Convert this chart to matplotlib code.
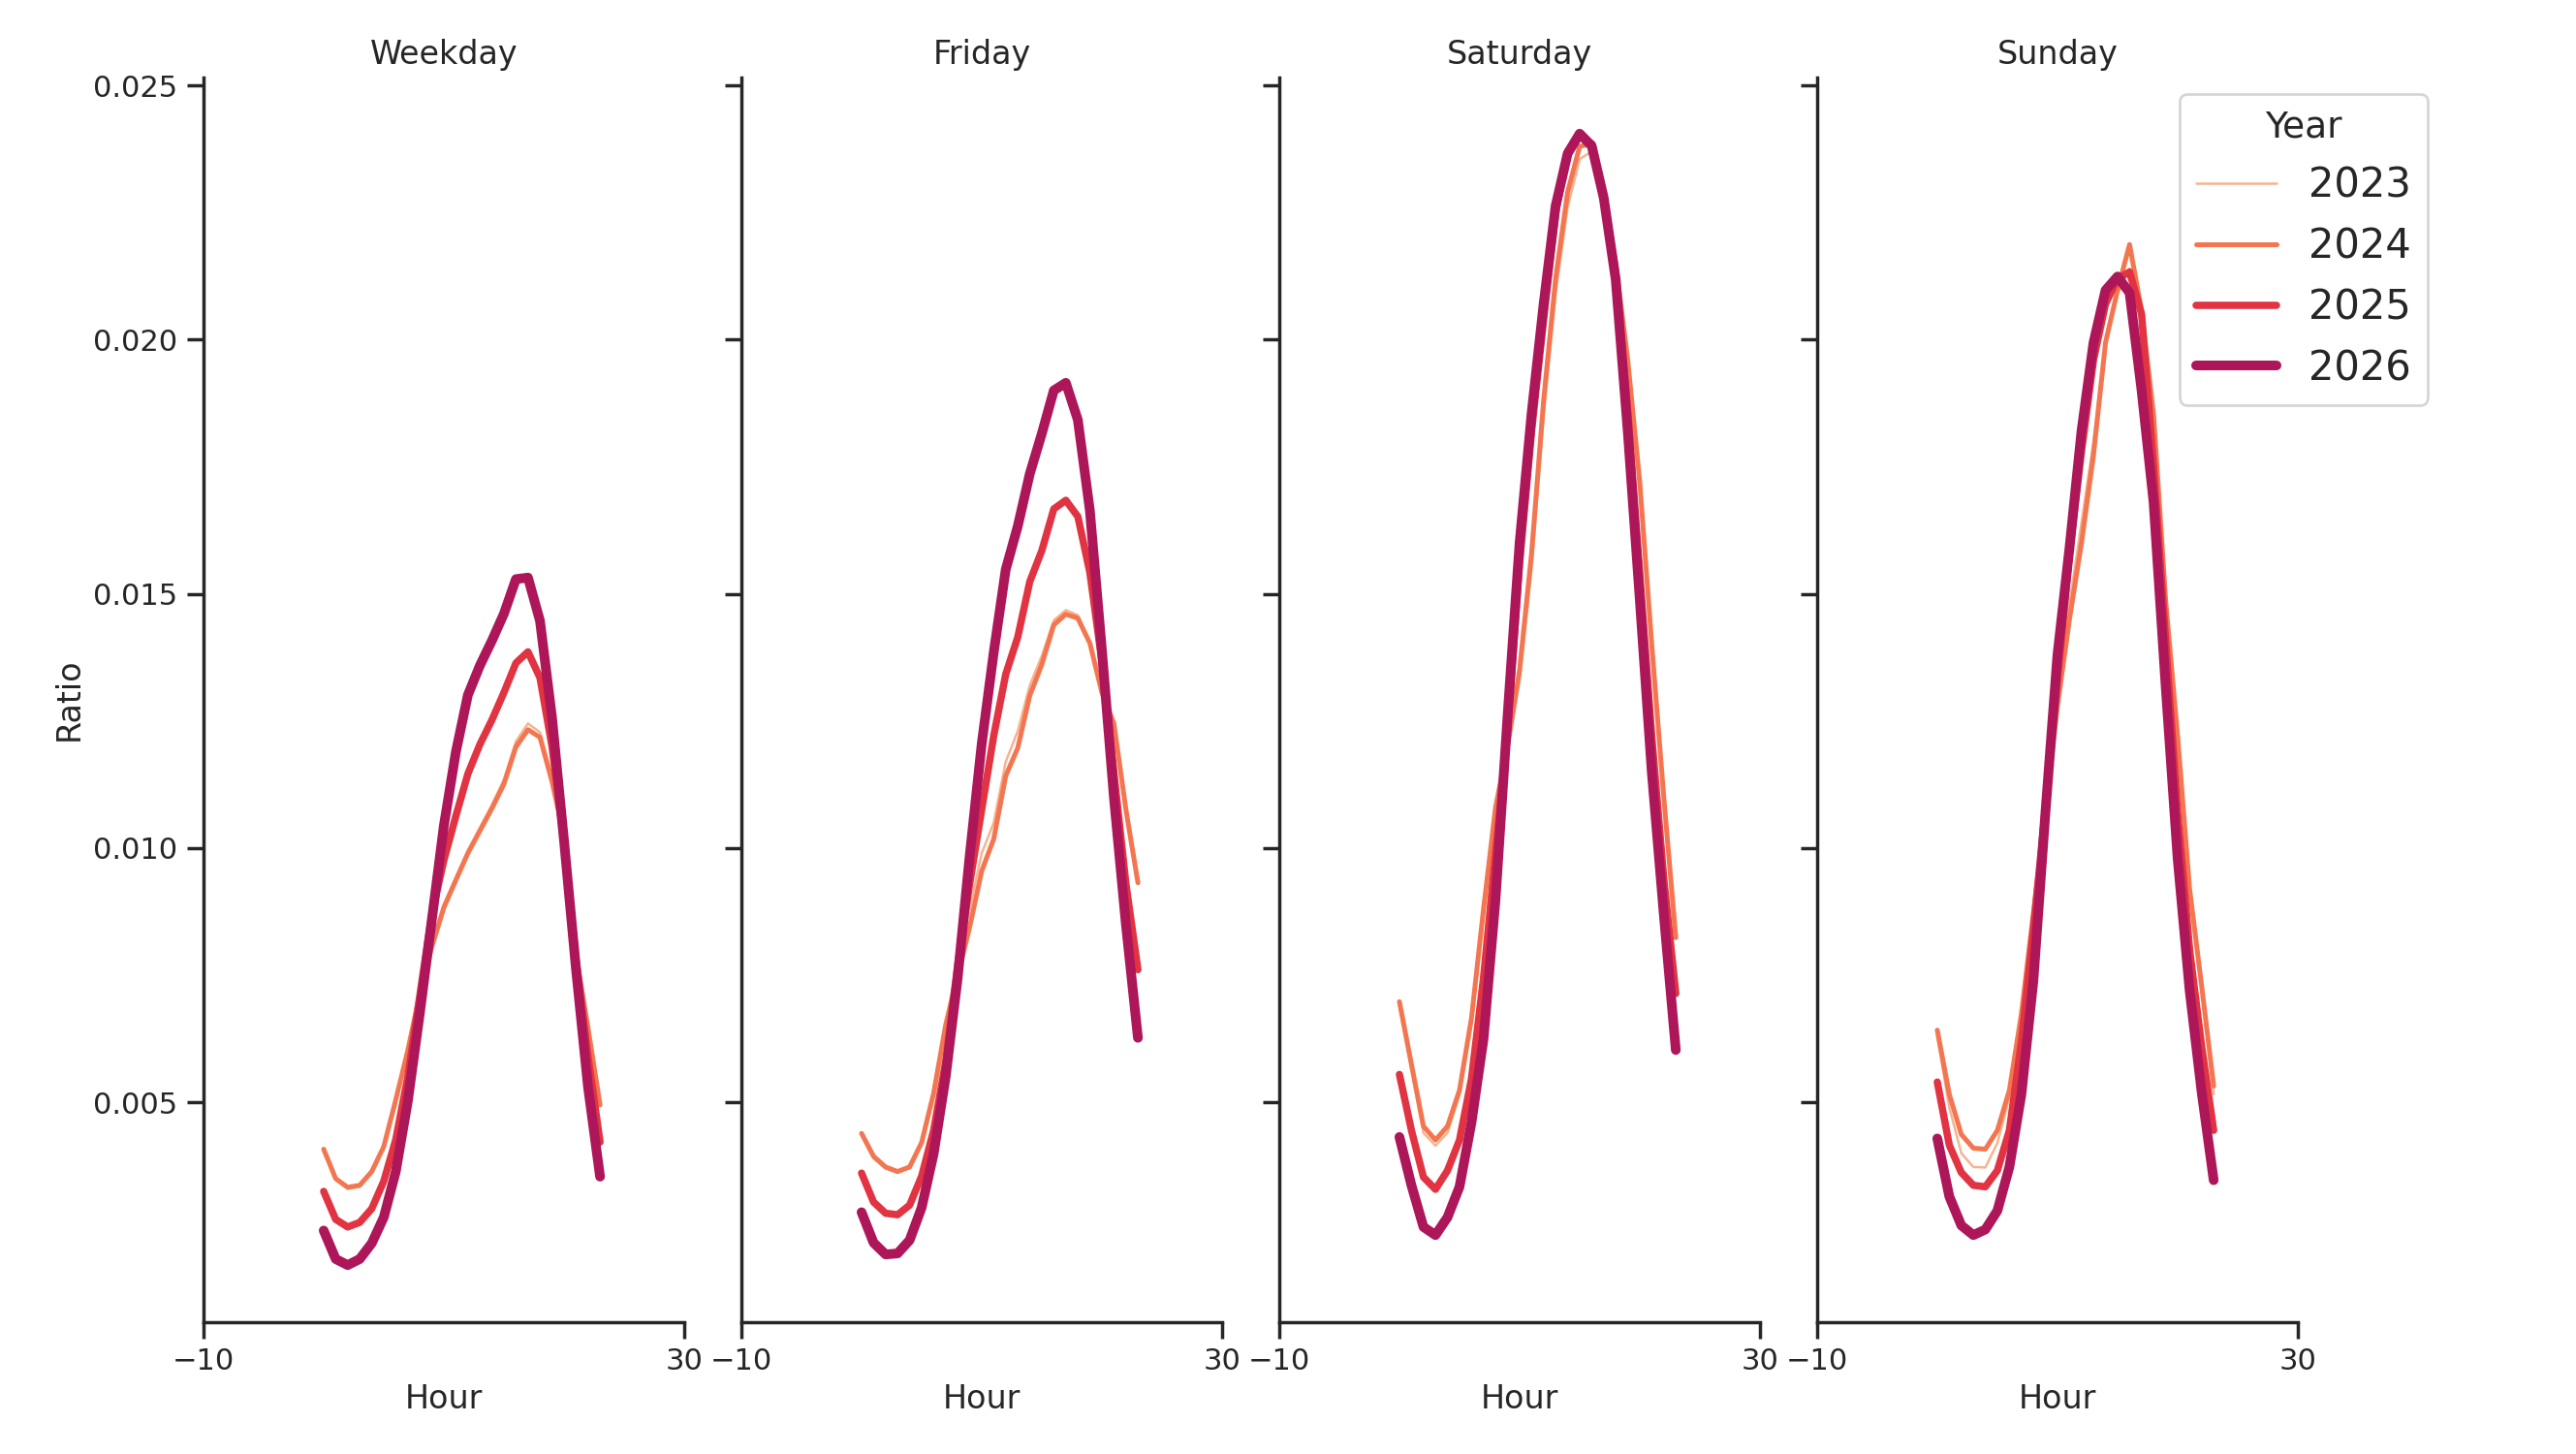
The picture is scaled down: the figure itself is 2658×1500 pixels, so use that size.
import numpy as np
import matplotlib
matplotlib.use("Agg")
import matplotlib.pyplot as plt

plt.rcParams.update({
    "font.family": ["DejaVu Sans"],
    "text.color": ".15",
    "axes.labelcolor": ".15",
    "axes.edgecolor": ".15",
    "xtick.color": ".15",
    "ytick.color": ".15",
    "axes.linewidth": 1.25,
    "xtick.major.width": 1.25,
    "ytick.major.width": 1.25,
    "xtick.major.size": 6,
    "ytick.major.size": 6,
    "xtick.labelsize": 11,
    "ytick.labelsize": 11,
    "axes.labelsize": 12,
    "axes.titlesize": 12,
    "lines.solid_capstyle": "round",
})

hours = list(range(24))
days = ["Weekday", "Friday", "Saturday", "Sunday"]
years = [2023, 2024, 2025, 2026]
colors = ["#f6b48f", "#f37651", "#e13342", "#ad1759"]
widths = [0.9, 1.8, 2.7, 3.6]

weekday_2023 = [0.00405, 0.00348, 0.00330, 0.00334, 0.00362, 0.00411, 0.00502, 0.00600,
                0.00712, 0.00810, 0.00890, 0.00942, 0.00995, 0.01040, 0.01085, 0.01135,
                0.01210, 0.01245, 0.01228, 0.01140, 0.01030, 0.00795, 0.00648, 0.00497]
weekday_2024 = [0.00408, 0.00350, 0.00333, 0.00337, 0.00364, 0.00413, 0.00505, 0.00602,
                0.00714, 0.00806, 0.00883, 0.00937, 0.00990, 0.01034, 0.01078, 0.01126,
                0.01199, 0.01233, 0.01218, 0.01131, 0.01024, 0.00791, 0.00646, 0.00495]
weekday_2025 = [0.00325, 0.00270, 0.00255, 0.00264, 0.00291, 0.00345, 0.00427, 0.00550,
                0.00710, 0.00870, 0.00976, 0.01063, 0.01146, 0.01204, 0.01252, 0.01306,
                0.01364, 0.01386, 0.01335, 0.01200, 0.01010, 0.00780, 0.00590, 0.00422]
weekday_2026 = [0.00248, 0.00192, 0.00180, 0.00192, 0.00223, 0.00274, 0.00364, 0.00502,
                0.00675, 0.00859, 0.01044, 0.01189, 0.01301, 0.01359, 0.01408, 0.01461,
                0.01529, 0.01532, 0.01447, 0.01257, 0.01015, 0.00762, 0.00530, 0.00354]

friday_2023 = [0.00436, 0.00390, 0.00370, 0.00362, 0.00372, 0.00420, 0.00520, 0.00660,
               0.00770, 0.00880, 0.00990, 0.01050, 0.01170, 0.01230, 0.01320, 0.01378,
               0.01448, 0.01468, 0.01458, 0.01405, 0.01308, 0.01246, 0.01078, 0.00934]
friday_2024 = [0.00439, 0.00394, 0.00373, 0.00364, 0.00373, 0.00421, 0.00518, 0.00652,
               0.00748, 0.00845, 0.00955, 0.01018, 0.01142, 0.01197, 0.01300, 0.01361,
               0.01439, 0.01460, 0.01452, 0.01403, 0.01306, 0.01245, 0.01076, 0.00932]
friday_2025 = [0.00361, 0.00304, 0.00282, 0.00279, 0.00298, 0.00355, 0.00445, 0.00580,
               0.00770, 0.00930, 0.01076, 0.01221, 0.01342, 0.01415, 0.01524, 0.01585,
               0.01667, 0.01684, 0.01652, 0.01542, 0.01367, 0.01149, 0.00930, 0.00761]
friday_2026 = [0.00284, 0.00224, 0.00201, 0.00203, 0.00229, 0.00293, 0.00399, 0.00550,
               0.00745, 0.00985, 0.01205, 0.01385, 0.01548, 0.01633, 0.01736, 0.01815,
               0.01900, 0.01915, 0.01842, 0.01664, 0.01390, 0.01100, 0.00850, 0.00627]

saturday_2023 = [0.00690, 0.00565, 0.00440, 0.00415, 0.00440, 0.00515, 0.00660, 0.00870,
                 0.01075, 0.01195, 0.01330, 0.01550, 0.01850, 0.02090, 0.02260, 0.02355,
                 0.02370, 0.02285, 0.02150, 0.01965, 0.01725, 0.01405, 0.01105, 0.00825]
saturday_2024 = [0.00698, 0.00575, 0.00453, 0.00426, 0.00453, 0.00524, 0.00666, 0.00880,
                 0.01080, 0.01200, 0.01350, 0.01580, 0.01880, 0.02120, 0.02290, 0.02380,
                 0.02385, 0.02290, 0.02150, 0.01960, 0.01720, 0.01400, 0.01100, 0.00824]
saturday_2025 = [0.00555, 0.00445, 0.00353, 0.00329, 0.00366, 0.00426, 0.00547, 0.00745,
                 0.00990, 0.01230, 0.01560, 0.01820, 0.02040, 0.02250, 0.02370, 0.02400,
                 0.02385, 0.02285, 0.02130, 0.01860, 0.01540, 0.01220, 0.00940, 0.00714]
saturday_2026 = [0.00432, 0.00337, 0.00255, 0.00239, 0.00274, 0.00334, 0.00461, 0.00625,
                 0.00900, 0.01260, 0.01600, 0.01855, 0.02070, 0.02263, 0.02366, 0.02405,
                 0.02381, 0.02279, 0.02118, 0.01820, 0.01490, 0.01150, 0.00870, 0.00603]

sunday_2023 = [0.00630, 0.00490, 0.00400, 0.00373, 0.00372, 0.00420, 0.00510, 0.00680,
               0.00880, 0.01100, 0.01300, 0.01480, 0.01640, 0.01800, 0.02000, 0.02090,
               0.02140, 0.02040, 0.01850, 0.01500, 0.01230, 0.00925, 0.00730, 0.00516]
sunday_2024 = [0.00642, 0.00516, 0.00437, 0.00410, 0.00408, 0.00445, 0.00524, 0.00674,
               0.00872, 0.01070, 0.01280, 0.01450, 0.01600, 0.01773, 0.01994, 0.02097,
               0.02187, 0.02057, 0.01852, 0.01488, 0.01220, 0.00919, 0.00729, 0.00532]
sunday_2025 = [0.00540, 0.00416, 0.00362, 0.00337, 0.00334, 0.00366, 0.00445, 0.00619,
               0.00840, 0.01080, 0.01330, 0.01580, 0.01780, 0.01960, 0.02070, 0.02120,
               0.02133, 0.02050, 0.01750, 0.01410, 0.01070, 0.00800, 0.00610, 0.00445]
sunday_2026 = [0.00429, 0.00315, 0.00258, 0.00239, 0.00250, 0.00287, 0.00373, 0.00516,
               0.00740, 0.01070, 0.01380, 0.01590, 0.01820, 0.01994, 0.02097, 0.02124,
               0.02092, 0.01900, 0.01680, 0.01320, 0.00980, 0.00720, 0.00520, 0.00347]

ratios = {
    "Weekday": [weekday_2023, weekday_2024, weekday_2025, weekday_2026],
    "Friday": [friday_2023, friday_2024, friday_2025, friday_2026],
    "Saturday": [saturday_2023, saturday_2024, saturday_2025, saturday_2026],
    "Sunday": [sunday_2023, sunday_2024, sunday_2025, sunday_2026],
}

fig, axes = plt.subplots(1, 4, sharey=True, figsize=(13.29, 7.5), dpi=200)
fig.subplots_adjust(left=0.079, right=0.892, bottom=0.091, top=0.947, wspace=0.119)

for ax, day in zip(axes, days):
    for yr, vals, c, lw in zip(years, ratios[day], colors, widths):
        ax.plot(hours, vals, color=c, lw=lw, label=str(yr))
    ax.set_title(day, pad=4.8)
    ax.set_xlabel("Hour", labelpad=3)
    ax.set_xlim(-10, 30)
    ax.set_xticks([-10, 30])
    ax.spines["top"].set_visible(False)
    ax.spines["right"].set_visible(False)

axes[0].set_yticks([0.005, 0.010, 0.015, 0.020, 0.025])
axes[0].set_ylabel("Ratio", labelpad=3)

handles, labels = axes[-1].get_legend_handles_labels()
fig.legend(handles, labels, title="Year", loc="upper right",
           bbox_to_anchor=(0.9424, 0.9353), borderaxespad=0,
           fontsize=15, title_fontsize=13.5, labelspacing=0.5)

plt.savefig("out.png", dpi=200)
